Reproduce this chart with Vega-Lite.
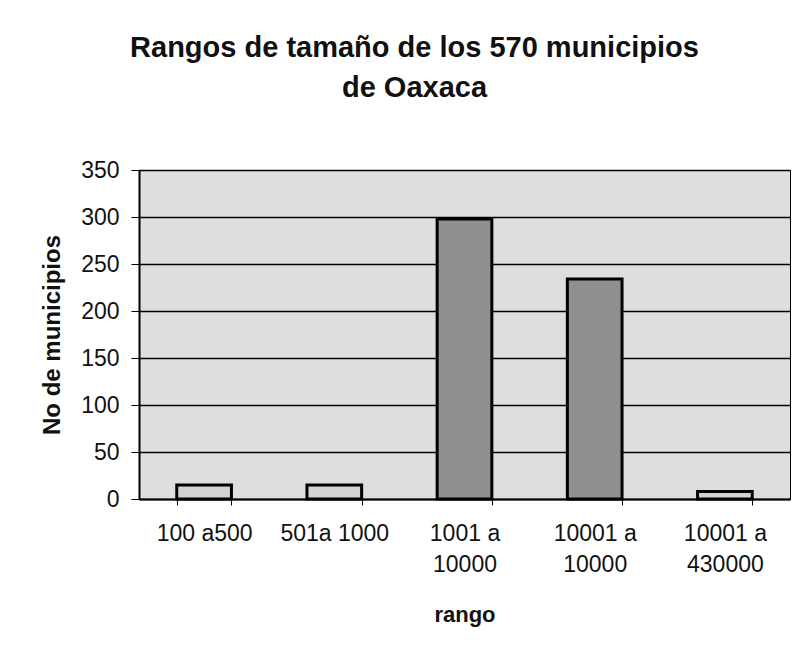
{
  "$schema": "https://vega.github.io/schema/vega-lite/v6.json",
  "autosize": "none",
  "width": 651,
  "height": 329,
  "padding": {"left": 139, "top": 170, "right": 16, "bottom": 149},
  "background": "white",
  "title": {
    "text": ["Rangos de tamaño de los 570 municipios", "de Oaxaca"],
    "font": "Liberation Sans",
    "fontSize": 29,
    "fontWeight": "bold",
    "color": "#111111",
    "lineHeight": 40,
    "anchor": "middle",
    "dx": -50,
    "offset": 56
  },
  "data": {
    "values": [
      {"rango": "100 a500", "municipios": 15},
      {"rango": "501a 1000", "municipios": 15},
      {"rango": "1001 a|10000", "municipios": 298},
      {"rango": "10001 a|10000 ", "municipios": 234},
      {"rango": "10001 a|430000", "municipios": 8}
    ]
  },
  "mark": {"type": "bar", "stroke": "#000000", "strokeWidth": 3},
  "encoding": {
    "x": {
      "field": "rango",
      "type": "nominal",
      "sort": null,
      "scale": {"paddingInner": 0.58, "paddingOuter": 0.29},
      "axis": {
        "title": "rango",
        "titleFont": "Liberation Sans",
        "titleFontSize": 22,
        "titleFontWeight": "bold",
        "titleColor": "#111111",
        "titlePadding": 28,
        "labelFont": "Liberation Sans",
        "labelFontSize": 23,
        "labelColor": "#111111",
        "labelAngle": 0,
        "labelPadding": 17,
        "labelLineHeight": 31,
        "labelExpr": "split(datum.label, '|')",
        "tickBand": "extent",
        "tickColor": "#000000",
        "tickSize": 6,
        "domainColor": "#000000",
        "domainWidth": 2,
        "grid": false
      }
    },
    "y": {
      "field": "municipios",
      "type": "quantitative",
      "scale": {"domain": [0, 350]},
      "axis": {
        "title": "No de municipios",
        "titleFont": "Liberation Sans",
        "titleFontSize": 24,
        "titleFontWeight": "bold",
        "titleColor": "#111111",
        "titlePadding": 16,
        "labelFont": "Liberation Sans",
        "labelFontSize": 23,
        "labelColor": "#111111",
        "labelPadding": 12,
        "values": [0, 50, 100, 150, 200, 250, 300, 350],
        "tickColor": "#000000",
        "tickSize": 8,
        "domainColor": "#000000",
        "domainWidth": 2,
        "grid": true,
        "gridColor": "#000000",
        "gridWidth": 1.5
      }
    },
    "color": {
      "field": "rango",
      "type": "nominal",
      "sort": null,
      "scale": {"range": ["#d2d2d2", "#d2d2d2", "#8f8f8f", "#8f8f8f", "#d2d2d2"]},
      "legend": null
    }
  },
  "config": {
    "view": {"fill": "#dedede", "stroke": "#000000", "strokeWidth": 1}
  }
}
